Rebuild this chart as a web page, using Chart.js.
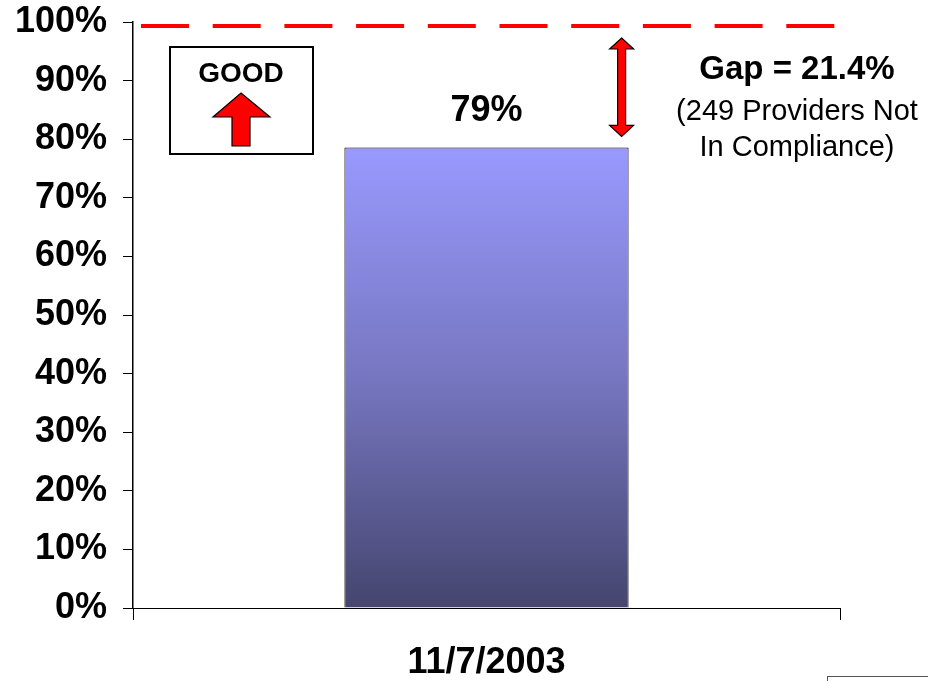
<!DOCTYPE html>
<html>
<head>
<meta charset="utf-8">
<script src="https://cdn.jsdelivr.net/npm/chart.js@4.4.1/dist/chart.umd.min.js"></script>
<style>
  html, body { margin: 0; padding: 0; background: #fff; }
  #wrap { width: 928px; height: 681px; }
</style>
</head>
<body>
<div id="wrap"><canvas id="chart" width="928" height="681"></canvas></div>
<script>
// compliance chart — single bar vs 100% goal

const categories = ['11/7/2003'];
const compliance = [78.6];
const goal = [100];
const yTicks = [0, 10, 20, 30, 40, 50, 60, 70, 80, 90, 100];
const gapNote = ['Gap = 21.4%', '(249 Providers Not', 'In Compliance)'];
const goodLabel = 'GOOD';

const FONT = '"Liberation Sans", Arial, Helvetica, sans-serif';
Chart.defaults.font.family = FONT;
Chart.defaults.color = '#000';

function barGradient(ctx) {
  const chart = ctx.chart;
  const area = chart.chartArea;
  if (!area) return '#9999ff';
  const y = chart.scales.y;
  const g = chart.ctx.createLinearGradient(0, y.getPixelForValue(compliance[0]), 0, y.getPixelForValue(0));
  g.addColorStop(0, '#9999ff');
  g.addColorStop(0.5, '#7676c0');
  g.addColorStop(1, '#45456f');
  return g;
}

function arrowPath(ctx, pts) {
  ctx.beginPath();
  ctx.moveTo(pts[0][0], pts[0][1]);
  for (let i = 1; i < pts.length; i++) ctx.lineTo(pts[i][0], pts[i][1]);
  ctx.closePath();
  ctx.fillStyle = '#ff0000';
  ctx.fill();
  ctx.lineWidth = 1.2;
  ctx.strokeStyle = '#000';
  ctx.stroke();
}

const notes = {
  id: 'notes',
  afterDraw(chart) {
    const { ctx, chartArea: a, scales } = chart;
    const bar = chart.getDatasetMeta(0).data[0];
    const goalY = scales.y.getPixelForValue(goal[0]) + 4;
    ctx.save();

    // goal line
    ctx.strokeStyle = '#ff0000';
    ctx.lineWidth = 4;
    ctx.setLineDash([48, 23.7]);
    ctx.beginPath();
    ctx.moveTo(a.left + 8, goalY);
    ctx.lineTo(a.right - 5, goalY);
    ctx.stroke();
    ctx.setLineDash([]);

    // value label
    ctx.fillStyle = '#000';
    ctx.font = 'bold 36px ' + FONT;
    ctx.textAlign = 'center';
    ctx.textBaseline = 'middle';
    ctx.fillText(Math.round(compliance[0]) + '%', bar.x, bar.y - 36);

    // GOOD box
    ctx.fillStyle = '#fff';
    ctx.fillRect(170, 47, 143, 107);
    ctx.lineWidth = 2;
    ctx.strokeStyle = '#000';
    ctx.strokeRect(170, 47, 143, 107);
    ctx.fillStyle = '#000';
    ctx.font = 'bold 28px ' + FONT;
    ctx.fillText(goodLabel, 241, 74);
    arrowPath(ctx, [[241, 93], [270, 117], [250, 117], [250, 146], [232, 146], [232, 117], [213, 117]]);

    // gap double arrow
    const ax = bar.x + bar.width / 2 - 7;
    const y1 = goalY + 12, y2 = bar.y - 11;
    arrowPath(ctx, [
      [ax, y1], [ax + 12, y1 + 11], [ax + 4, y1 + 11], [ax + 4, y2 - 11], [ax + 12, y2 - 11],
      [ax, y2], [ax - 12, y2 - 11], [ax - 4, y2 - 11], [ax - 4, y1 + 11], [ax - 12, y1 + 11]
    ]);

    // gap text
    ctx.fillStyle = '#000';
    ctx.textBaseline = 'alphabetic';
    ctx.font = 'bold 33px ' + FONT;
    ctx.fillText(gapNote[0], 797, 79);
    ctx.font = '29px ' + FONT;
    ctx.fillText(gapNote[1], 797, 120);
    ctx.fillText(gapNote[2], 797, 156);

    // stray legend frame at the corner
    ctx.lineWidth = 1;
    ctx.strokeStyle = '#555';
    ctx.strokeRect(827.5, 676.5, 200, 60);
    ctx.restore();
  }
};

new Chart(document.getElementById('chart'), {
  type: 'bar',
  data: {
    labels: categories,
    datasets: [{
      data: compliance,
      backgroundColor: barGradient,
      borderColor: '#000',
      borderWidth: 1,
      barPercentage: 0.402,
      categoryPercentage: 1
    }]
  },
  options: {
    responsive: false,
    animation: false,
    layout: { padding: { top: 22, right: 88, bottom: 0, left: 0 } },
    plugins: { legend: { display: false }, tooltip: { enabled: false } },
    scales: {
      x: {
        offset: true,
        afterFit(s) { s.height = 73; s.paddingLeft = 0; s.paddingRight = 0; },
        border: { color: '#000', width: 1 },
        grid: { offset: true, drawOnChartArea: false, color: '#000', tickLength: 12 },
        ticks: { font: { size: 36, weight: 'bold' }, padding: 21, color: '#000' }
      },
      y: {
        min: 0,
        max: 100,
        afterFit(s) { s.width = 133; s.paddingTop = 0; s.paddingBottom = 0; },
        afterBuildTicks(s) { s.ticks = yTicks.map(v => ({ value: v })); },
        border: { color: '#000', width: 1.5 },
        grid: { drawOnChartArea: false, color: '#000', tickLength: 10 },
        ticks: { font: { size: 36, weight: 'bold' }, padding: 16, color: '#000', callback: v => v + '%' }
      }
    }
  },
  plugins: [notes]
});
</script>
</body>
</html>
